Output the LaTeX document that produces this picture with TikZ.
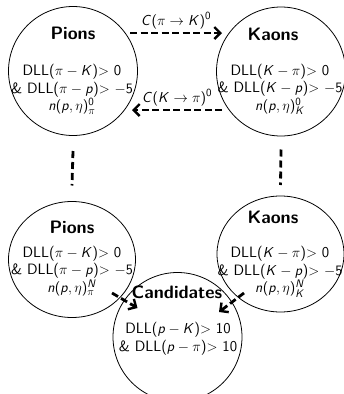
\documentclass[tikz,border=0pt]{standalone}
\usepackage{amsmath}
\DeclareSymbolFont{operators}{OT1}{cmss}{m}{n}
\DeclareSymbolFont{sfsl}{OT1}{cmss}{m}{sl}
\DeclareMathSymbol{K}{\mathalpha}{sfsl}{`K}
\DeclareMathSymbol{p}{\mathalpha}{sfsl}{`p}
\DeclareMathSymbol{n}{\mathalpha}{sfsl}{`n}
\DeclareMathSymbol{C}{\mathalpha}{sfsl}{`C}
\DeclareMathSymbol{N}{\mathalpha}{sfsl}{`N}
\usetikzlibrary{calc,arrows.meta,shapes.geometric}
\begin{document}
\sffamily
\begin{tikzpicture}[x=1pt,y=-1pt,
  blob/.style={draw, circle, line width=0.8pt, minimum size=129pt, inner sep=0pt},
  oblob/.style={draw, ellipse, line width=0.8pt, minimum width=127pt, minimum height=116pt, inner sep=0pt},
  ttl/.style={font=\fontsize{18}{21}\selectfont\bfseries, inner sep=0pt},
  body/.style={font=\fontsize{15}{17.5}\selectfont, align=center, inner sep=0pt},
  lbl/.style={font=\fontsize{15}{17}\selectfont, inner sep=0pt},
  arr/.style={line width=2.8pt, dash pattern=on 7pt off 3.5pt, -{Straight Barb[length=6pt,width=12pt,line width=2.4pt]}},
  vdash/.style={line width=2.8pt, dash pattern=on 7pt off 4pt}]
\useasboundingbox (0,0) rectangle (344,394);
\begin{scope}
\clip (0,0) rectangle (344,394);
% shapes
\node[blob] (tp) at (73,71) {};
\node[blob] (tk) at (281,71.5) {};
\node[oblob] (bp) at (72,259.5) {};
\node[oblob] (bk) at (280.5,254) {};
\node[blob] (cd) at (177.5,337) {};
\end{scope}
% titles
\node[ttl] (tpt) at (73,33) {Pions};
\node[ttl] (tkt) at (273,34) {Kaons};
\node[ttl] (bpt) at (72,227) {Pions};
\node[ttl] (bkt) at (273,217) {Kaons};
\node[ttl] (cdt) at (177,292) {Candidates};
% bodies
\node[body] (tpb) at (72,89.5) {DLL($\pi-K$)$>$ 0\\\& DLL($\pi-p$)$>$ $-5$\\$n(p,\eta)^{0}_{\pi}$};
\node[body] (tkb) at (280,89.5) {DLL($K-\pi$)$>$ 0\\\& DLL($K-p$)$>$ $-5$\\$n(p,\eta)^{0}_{K}$};
\node[body] (bpb) at (72,271) {DLL($\pi-K$)$>$ 0\\\& DLL($\pi-p$)$>$ $-5$\\$n(p,\eta)^{N}_{\pi}$};
\node[body] (bkb) at (280,272) {DLL($K-\pi$)$>$ 0\\\& DLL($K-p$)$>$ $-5$\\$n(p,\eta)^{N}_{K}$};
\node[body] (cdb) at (178,339) {DLL($p-K$)$>$ 10\\\& DLL($p-\pi$)$>$ 10};
% connector end points
\coordinate (a1s) at ($(tp)+(57,-38)$);
\coordinate (a1e) at ($(tk)+(-59,-38.5)$);
\coordinate (a2s) at ($(tk)+(-59,38.5)$);
\coordinate (a2e) at ($(tp)+(59,39)$);
\coordinate (v1s) at ($(tp)+(0,80)$);
\coordinate (v1e) at ($(bp)+(0,-74)$);
\coordinate (v2s) at ($(tk)+(0,78)$);
\coordinate (v2e) at ($(bk)+(0,-69)$);
\coordinate (d1s) at ($(bp)+(40,33.5)$);
\coordinate (d1e) at ($(cd)+(-40,-29)$);
\coordinate (d2s) at ($(bk)+(-36.5,39)$);
\coordinate (d2e) at ($(cd)+(41.5,-25)$);
% connectors
\draw[arr] (a1s) -- node[lbl, above=3pt] (l1) {$C(\pi\rightarrow K)^{0}$} (a1e);
\draw[arr] (a2s) -- node[lbl, above=3pt] (l2) {$C(K\rightarrow \pi)^{0}$} (a2e);
\draw[vdash] (v1s) -- (v1e);
\draw[vdash] (v2s) -- (v2e);
\draw[arr] (d1s) -- (d1e);
\draw[arr] (d2s) -- (d2e);
\end{tikzpicture}
\end{document}
